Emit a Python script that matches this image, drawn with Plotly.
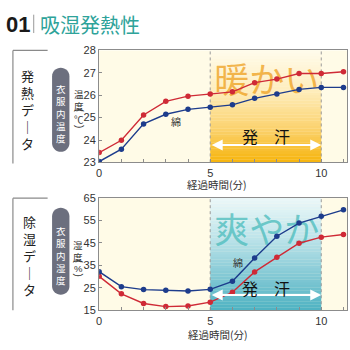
import math
import plotly.graph_objects as go

# ---------------- data ----------------
minutes = list(range(12))
temp_red = [23.44, 23.99, 25.12, 25.73, 25.96, 26.06, 26.15, 26.56, 26.72, 26.97, 26.97, 27.05]
temp_blue = [23.04, 23.59, 24.72, 25.15, 25.37, 25.46, 25.57, 25.86, 26.05, 26.26, 26.35, 26.35]
hum_blue = [32.2, 25.5, 24.2, 23.9, 23.6, 24.3, 27.9, 38.3, 48.0, 53.9, 56.9, 59.8]
hum_red = [30.1, 22.3, 18.0, 16.6, 16.9, 18.6, 23.0, 32.1, 38.6, 44.9, 47.6, 48.8]
x_tick_vals = list(range(12))
x_tick_text = ["0", "", "", "", "", "5", "", "", "", "", "10", ""]
temp_ticks = [23, 24, 25, 26, 27, 28]
hum_ticks = [15, 25, 35, 45, 55, 65]
sweat_start, sweat_end = 5, 10

W = H = 350
JP = "Noto Sans CJK JP"
NUM = "Liberation Sans, Arial"
RED = "#cf2a36"
BLUE = "#1d3c8c"
TEAL = "#2ea39a"


def px(x):
    return x / W


def py(y):
    return 1 - y / H


fig = go.Figure()

# big background words (drawn first so lines are on top)
fig.add_trace(go.Scatter(x=[7.55], y=[26.5], mode="text", text=["暖かい"],
                         textfont=dict(size=35, color="rgba(238,160,30,0.75)", family=JP),
                         xaxis="x", yaxis="y", showlegend=False, hoverinfo="skip"))
fig.add_trace(go.Scatter(x=[7.55], y=[49.0], mode="text", text=["爽やか"],
                         textfont=dict(size=35, color="rgba(80,190,190,0.8)", family=JP),
                         xaxis="x2", yaxis="y2", showlegend=False, hoverinfo="skip"))

line_style = dict(width=1.4)
mk = dict(size=5.5)
fig.add_trace(go.Scatter(x=minutes, y=temp_red, mode="lines+markers", line=dict(color=RED, **line_style),
                         marker=dict(color=RED, **mk), xaxis="x", yaxis="y", showlegend=False))
fig.add_trace(go.Scatter(x=minutes, y=temp_blue, mode="lines+markers", line=dict(color=BLUE, **line_style),
                         marker=dict(color=BLUE, **mk), xaxis="x", yaxis="y", showlegend=False))
fig.add_trace(go.Scatter(x=minutes, y=hum_red, mode="lines+markers", line=dict(color=RED, **line_style),
                         marker=dict(color=RED, **mk), xaxis="x2", yaxis="y2", showlegend=False))
fig.add_trace(go.Scatter(x=minutes, y=hum_blue, mode="lines+markers", line=dict(color=BLUE, **line_style),
                         marker=dict(color=BLUE, **mk), xaxis="x2", yaxis="y2", showlegend=False))

shapes = []


def lerp_color(stops, t):
    for i in range(len(stops) - 1):
        t0, c0 = stops[i]
        t1, c1 = stops[i + 1]
        if t0 <= t <= t1:
            f = (t - t0) / (t1 - t0) if t1 > t0 else 0
            c = [round(c0[k] + (c1[k] - c0[k]) * f) for k in range(3)]
            return "rgb(%d,%d,%d)" % tuple(c)
    c = stops[-1][1]
    return "rgb(%d,%d,%d)" % tuple(c)


def gradient(xref, ydom, stops, n=40):
    for i in range(n):
        y0 = i / n
        y1 = (i + 1) / n
        t = 1 - (y0 + y1) / 2  # 0 at top, 1 at bottom
        shapes.append(dict(type="rect", xref=xref, yref=ydom, x0=sweat_start, x1=sweat_end,
                           y0=y0, y1=y1 + 0.002, fillcolor=lerp_color(stops, t),
                           line=dict(width=0), layer="below"))


gradient("x", "y domain", [(0, (255, 251, 236)), (0.35, (254, 238, 190)), (0.7, (251, 210, 110)), (1, (246, 180, 12))])
gradient("x2", "y2 domain", [(0, (236, 248, 249)), (0.35, (190, 228, 234)), (0.7, (130, 200, 212)), (1, (78, 178, 194))])

for xr, yr in (("x", "y domain"), ("x2", "y2 domain")):
    for xv in (sweat_start, sweat_end):
        shapes.append(dict(type="line", xref=xr, yref=yr, x0=xv, x1=xv, y0=0, y1=1,
                           line=dict(color="#9a9a9a", width=1, dash="dot"), layer="below"))

# left brackets
for top, bot in ((46, 163), (199, 315)):
    shapes.append(dict(type="line", xref="paper", yref="paper", x0=px(10), x1=px(45), y0=py(top), y1=py(top),
                       line=dict(color="#8a8a8a", width=1.2)))
    shapes.append(dict(type="line", xref="paper", yref="paper", x0=px(10), x1=px(10), y0=py(top), y1=py(bot),
                       line=dict(color="#8a8a8a", width=1.2)))

# title separator
shapes.append(dict(type="line", xref="paper", yref="paper", x0=px(31), x1=px(31), y0=py(9), y1=py(28),
                   line=dict(color="#999999", width=1)))


def pill(x0, x1, y0, y1):
    r = (x1 - x0) / 2
    cx = (x0 + x1) / 2
    pts = []
    for k in range(0, 17):
        a = math.pi + math.pi * k / 16
        pts.append((cx + r * math.cos(a), y0 + r + r * math.sin(a)))
    for k in range(0, 17):
        a = math.pi * k / 16
        pts.append((cx + r * math.cos(a), y1 - r + r * math.sin(a)))
    d = "M " + " L ".join("%.5f,%.5f" % (px(a), py(b)) for a, b in pts) + " Z"
    return dict(type="path", xref="paper", yref="paper", path=d, fillcolor="#6c6f7e", line=dict(width=0))


shapes.append(pill(49.5, 67, 64, 151))
shapes.append(pill(49.5, 67, 209, 299))

annotations = []


def ptext(text, x, y, size, color, family=JP, angle=0, xanchor="center"):
    annotations.append(dict(text=text, x=px(x), y=py(y), xref="paper", yref="paper", showarrow=False,
                            font=dict(size=size, color=color, family=family), textangle=angle,
                            xanchor=xanchor, yanchor="middle", align="center", borderpad=0))


def vstack(chars, x, yc, size, color):
    ptext("<br>".join(chars), x, yc, size, color)


# title
ptext("<b>01</b>", 2, 19, 22, "#1a1a1a", family=NUM, xanchor="left")
ptext("吸湿発熱性", 36, 19, 20, TEAL, xanchor="left")

# vertical labels
vstack(["発", "熱", "デ", "｜", "タ"], 25, 107, 13, "#222222")
vstack(["除", "湿", "デ", "｜", "タ"], 27, 258, 13, "#222222")
vstack(list("衣服内温度"), 58.3, 111, 9.5, "white")
vstack(list("衣服内湿度"), 58.3, 258.4, 9.5, "white")

# y-axis titles (vertical, with rotated parentheses)
vstack(["温", "度"], 77, 97, 9.5, "#333333")
ptext("(", 77, 108.5, 10, "#333333", family=NUM, angle=90)
ptext("℃", 77, 116.5, 9.5, "#333333")
ptext(")", 77, 124.5, 10, "#333333", family=NUM, angle=90)
vstack(["湿", "度"], 76, 254, 9.5, "#333333")
ptext("(", 76, 265, 10, "#333333", family=NUM, angle=90)
ptext("%", 76, 271.5, 9.5, "#333333", family=NUM)
ptext(")", 76, 278.5, 10, "#333333", family=NUM, angle=90)

# x-axis titles
ptext("経過時間(分)", 216, 185, 10.5, "#333333")
ptext("経過時間(分)", 217, 340, 10.5, "#333333")

# sweating arrows and labels
for xr, yr, ya, yl in (("x", "y", 23.78, 24.18), ("x2", "y2", 21.8, 24.9)):
    annotations.append(dict(x=sweat_end, y=ya, ax=sweat_start, ay=ya, xref=xr, yref=yr, axref=xr, ayref=yr,
                            text="", showarrow=True, arrowhead=2, arrowside="end+start", arrowsize=1.1,
                            arrowwidth=2, arrowcolor="white"))
    annotations.append(dict(x=7.5, y=yl, xref=xr, yref=yr, text="発　汗", showarrow=False,
                            font=dict(size=16, color="#111111", family=JP)))

annotations.append(dict(x=3.44, y=24.82, xref="x", yref="y", text="綿", showarrow=False,
                        font=dict(size=10, color="#333333", family=JP)))
annotations.append(dict(x=6.23, y=36.5, xref="x2", yref="y2", text="綿", showarrow=False,
                        font=dict(size=10, color="#333333", family=JP)))

axis_common = dict(showline=True, linecolor="#8c8c8c", linewidth=1.2, mirror=True, showgrid=False,
                   zeroline=False, ticks="inside", ticklen=3, tickcolor="#8c8c8c",
                   tickfont=dict(size=11, color="#333333", family=NUM), fixedrange=True)
xdom = [px(97), px(347)]

fig.update_layout(
    width=W, height=H, margin=dict(l=0, r=0, t=0, b=0),
    paper_bgcolor="white", plot_bgcolor="#fffbe7",
    showlegend=False,
    xaxis=dict(domain=xdom, range=[0, 11.16], tickvals=x_tick_vals, ticktext=x_tick_text,
               anchor="y", **axis_common),
    yaxis=dict(domain=[py(162), py(46)], range=[23, 28], tickvals=temp_ticks, anchor="x", **axis_common),
    xaxis2=dict(domain=xdom, range=[0, 11.16], tickvals=x_tick_vals, ticktext=x_tick_text,
                anchor="y2", **axis_common),
    yaxis2=dict(domain=[py(315), py(199)], range=[15, 65], tickvals=hum_ticks, anchor="x2", **axis_common),
    shapes=shapes, annotations=annotations,
)

fig.write_html("out.html")
